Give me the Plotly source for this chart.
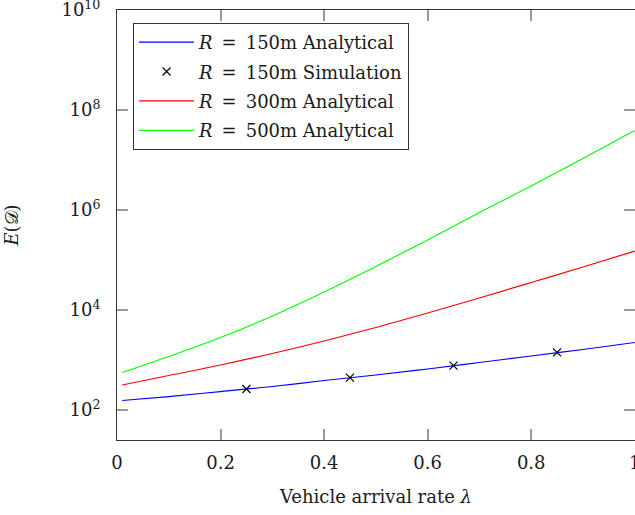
import plotly.graph_objects as go

# Vehicle arrival rate (x) and expected delay E(D) for each radius
lam = [0.01, 0.1, 0.2, 0.3, 0.4, 0.5, 0.6, 0.7, 0.8, 0.9, 1.0]
r150_analytical = [155, 186, 234, 295, 389, 501, 661, 891, 1202, 1622, 2239]
r300_analytical = [316, 490, 794, 1350, 2400, 4470, 8710, 1.74e4, 3.55e4, 7.24e4, 1.51e5]
r500_analytical = [562, 1175, 2820, 7590, 2.29e4, 7.41e4, 2.51e5, 8.91e5, 3.02e6, 1.07e7, 3.89e7]

lam_sim = [0.25, 0.45, 0.65, 0.85]
r150_simulation = [263, 443, 770, 1425]

x_ticks = [0, 0.2, 0.4, 0.6, 0.8, 1.0]
x_ticktext = ["0", "0.2", "0.4", "0.6", "0.8", "1"]
y_ticks = [1e2, 1e4, 1e6, 1e8, 1e10]
y_ticktext = ["10<sup>2</sup>", "10<sup>4</sup>", "10<sup>6</sup>", "10<sup>8</sup>", "10<sup>10</sup>"]

FONT = "DejaVu Serif"
SP = "\u2002"

fig = go.Figure()
fig.add_trace(go.Scatter(x=lam, y=r150_analytical, mode="lines", legendgroup="a",
                         line=dict(color="#0000ff", width=1.2, shape="spline"),
                         name=f"<i>R</i>{SP}={SP}150m Analytical"))
fig.add_trace(go.Scatter(x=lam_sim, y=r150_simulation, mode="markers", legendgroup="b",
                         marker=dict(symbol="x-thin", size=8, line=dict(color="black", width=1.2), color="black"),
                         name=f"<i>R</i>{SP}={SP}150m Simulation"))
fig.add_trace(go.Scatter(x=lam, y=r300_analytical, mode="lines", legendgroup="c",
                         line=dict(color="#ff0000", width=1.2, shape="spline"),
                         name=f"<i>R</i>{SP}={SP}300m Analytical"))
fig.add_trace(go.Scatter(x=lam, y=r500_analytical, mode="lines", legendgroup="d",
                         line=dict(color="#00ff00", width=1.2, shape="spline"),
                         name=f"<i>R</i>{SP}={SP}500m Analytical"))

fig.update_layout(
    width=635, height=515,
    margin=dict(l=117, r=0, t=10, b=75, autoexpand=False),
    paper_bgcolor="white", plot_bgcolor="white",
    font=dict(family=FONT, size=18, color="#1a1a1a"),
    showlegend=True,
    legend=dict(x=0.031, y=0.97, xanchor="left", yanchor="top",
                bordercolor="#333", borderwidth=1, bgcolor="white",
                font=dict(family=FONT, size=18), tracegroupgap=3,
                itemwidth=55),
)
fig.update_xaxes(range=[0, 1.0005], tickvals=x_ticks, ticktext=x_ticktext,
                 ticks="inside", ticklen=11, tickwidth=1.5, tickcolor="#999",
                 showline=True, linecolor="#333", linewidth=1, mirror="ticks",
                 showgrid=False, zeroline=False, ticklabelstandoff=6,
                 ticklabeloverflow="allow", automargin=False,
                 title=dict(text="Vehicle arrival rate <i>λ</i>", standoff=18,
                            font=dict(family=FONT, size=18)))
fig.update_yaxes(type="log", range=[1.4, 10.001], tickvals=y_ticks, ticktext=y_ticktext,
                 ticks="inside", ticklen=11, tickwidth=1.5, tickcolor="#999",
                 showline=True, linecolor="#333", linewidth=1, mirror="ticks",
                 showgrid=False, zeroline=False, ticklabelstandoff=12,
                 ticklabeloverflow="allow", automargin=False,
                 title=dict(text="<i>E</i>(𝒟)", standoff=38,
                            font=dict(family=FONT, size=18)))

fig.write_html("out.html")
